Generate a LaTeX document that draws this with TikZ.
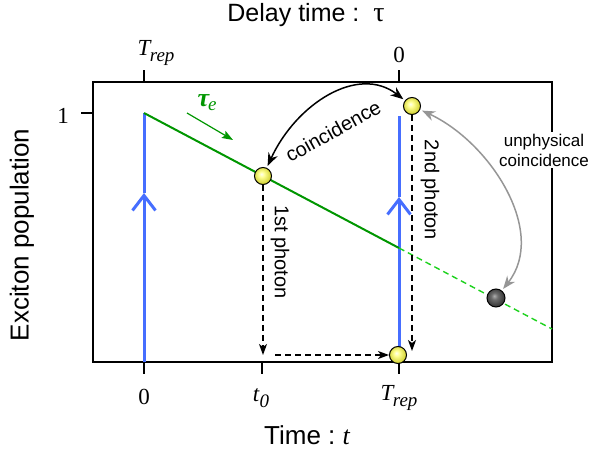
\documentclass[tikz,border=0pt]{standalone}
\usepackage{fontspec}
\setmainfont{Liberation Sans}
\newfontfamily\tmfont{Liberation Serif}
\usetikzlibrary{arrows.meta}
\definecolor{pulseblue}{RGB}{70,110,255}
\definecolor{decaygreen}{RGB}{0,150,0}
\definecolor{tailgreen}{RGB}{30,210,30}
\definecolor{ballhi}{RGB}{255,255,240}
\definecolor{ballmid}{RGB}{255,255,150}
\definecolor{ballrim}{RGB}{215,215,60}
\definecolor{ghosthi}{RGB}{175,175,175}
\definecolor{ghostmid}{RGB}{110,110,110}
\definecolor{ghostrim}{RGB}{60,60,60}
\definecolor{linkgray}{RGB}{150,150,150}
\pgfdeclareradialshading{photonball}{\pgfpoint{-5bp}{6bp}}{color(0bp)=(ballhi); color(8bp)=(ballmid); color(24bp)=(ballrim); color(50bp)=(ballrim)}
\pgfdeclareradialshading{ghostball}{\pgfpoint{-5bp}{6bp}}{color(0bp)=(ghosthi); color(9bp)=(ghostmid); color(24bp)=(ghostrim); color(50bp)=(ghostrim)}
\newcommand{\Trep}{{\tmfont\itshape T\kern-0.5pt\raisebox{-0.55ex}{\fontsize{19}{19}\selectfont rep}}}
\newcommand{\tzero}{{\tmfont\itshape t\kern0.5pt\raisebox{-0.55ex}{\fontsize{19}{19}\selectfont 0}}}

\begin{document}
\begin{tikzpicture}[x=1pt, y=-1pt, font=\fontsize{20}{24}\selectfont]
    \tikzset{
      frame/.style={line width=2.4pt},
      num/.style={font=\fontsize{23}{24}\selectfont\tmfont},
      pulse/.style={pulseblue, line width=3pt},
      chevron/.style={pulse, -{Straight Barb[length=15pt, width=23pt]}},
      decay/.style={decaygreen, line width=2pt},
      photon/.style={circle, draw=black, line width=1pt, minimum size=17pt,
                     inner sep=0pt, shading=photonball},
      ghost/.style={photon, minimum size=18pt, shading=ghostball},
      drop/.style={dashed, dash pattern=on 6pt off 4pt, line width=1.2pt,
                   -{Stealth[length=11pt, width=8pt, inset=3pt]}},
      pair/.style={line width=1.5pt, shorten <=2pt, shorten >=2pt,
                   {Stealth[length=13pt, width=10pt]}-{Stealth[length=13pt, width=10pt]}},
    }
    \useasboundingbox (0,0) rectangle (592,454);

    \draw[frame] (93,82) rectangle (552,362);
    \draw[frame] (144,82) -- (144,70);
    \draw[frame] (399,82) -- (399,70);
    \draw[frame] (144,362) -- (144,374);
    \draw[frame] (262,362) -- (262,374);
    \draw[frame] (399,362) -- (399,374);
    \draw[frame] (93,113) -- (81,113);

    \coordinate (pa) at (144,362);
    \coordinate (pamid) at (144,193);
    \coordinate (patop) at (144,113);
    \coordinate (pb) at (399,362);
    \coordinate (pbmid) at (399,197);
    \coordinate (pbtop) at (399,116);
    \coordinate (cross) at (399,248);
    \coordinate (tailend) at (552,329);
    \coordinate (tauA) at (187,113);
    \coordinate (tauB) at (233,140);

    \draw[chevron] (pa) -- (pamid);
    \draw[pulse] (pamid) -- (patop);
    \draw[chevron] (pb) -- (pbmid);
    \draw[pulse] (pbmid) -- (pbtop);

    \draw[decay] (patop) -- (cross);
    \draw[tailgreen, line width=1.4pt, dash pattern=on 6pt off 4pt] (cross) -- (tailend);
    \draw[decaygreen, line width=1.2pt, -{Stealth[length=11pt, width=8pt, inset=2pt]}] (tauA) -- (tauB);
    \node[decaygreen, font=\fontsize{26}{26}\selectfont\tmfont\bfseries\itshape] (tau) at (207,103)
      {τ\kern-1pt\raisebox{-0.35ex}{\fontsize{19}{19}\selectfont\mdseries e}};

    \node[photon] (ph1) at (263,176) {};
    \node[photon] (ph2) at (412,106) {};
    \node[photon] (det) at (398,355) {};
    \node[ghost] (ghost) at (496,298) {};

    \coordinate (ph1foot) at (263,355);
    \coordinate (hstart) at (275,355);
    \coordinate (ph2foot) at (412,351);
    \draw[drop] (ph1) -- (ph1foot);
    \draw[drop] (hstart) -- (det);
    \draw[drop] (ph2) -- (ph2foot);

    \draw[pair] (ph1) .. controls (296,104) and (358,64) .. (ph2);
    \draw[pair, linkgray] (ph2) .. controls (490,142) and (548,232) .. (ghost);

    \node[rotate=29] (coin) at (333,131) {coincidence};
    \node[rotate=-90] (first) at (280,252) {1st photon};
    \node[rotate=-90] (second) at (430,190) {2nd photon};
    \node[fill=white, align=center, inner sep=2pt, font=\fontsize{17}{20}\selectfont]
      (unphys) at (544,150) {unphysical\\coincidence};

    \node[num] (tl) at (156,53) {\Trep};
    \node[num] (tr) at (399,55) {0};
    \node[num] (bl) at (144,397) {0};
    \node[num] (bm) at (261,398) {\tzero};
    \node[num] (br) at (399,398) {\Trep};
    \node[num] (one) at (63,116) {1};

    \node[font=\fontsize{25}{26}\selectfont, inner sep=1pt] (delay) at (306,15) {Delay time :\ \ {\tmfont\fontsize{28}{26}\selectfont τ}};
    \node[font=\fontsize{26}{26}\selectfont] (time) at (307,435) {Time :\ {\tmfont\itshape t}};
    \node[rotate=90, font=\fontsize{26}{26}\selectfont] (pop) at (22,235) {Exciton population};
\end{tikzpicture}
\end{document}
